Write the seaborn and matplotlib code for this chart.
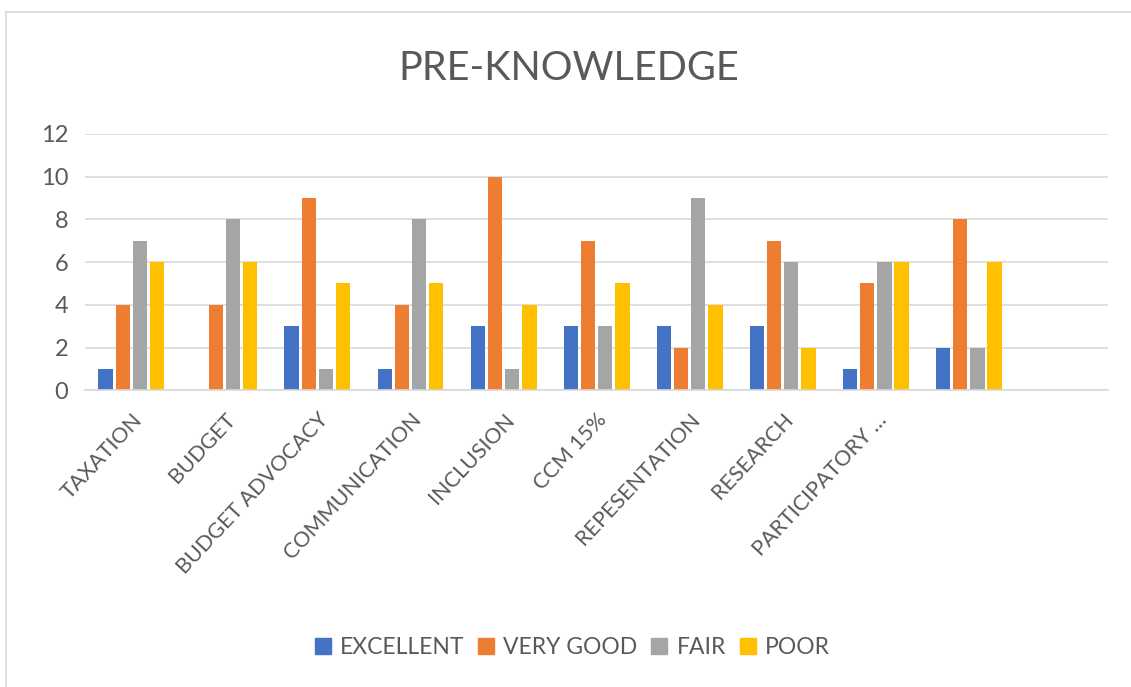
import matplotlib
matplotlib.use("Agg")
import matplotlib.pyplot as plt
import seaborn as sns
import pandas as pd
from matplotlib.lines import Line2D

categories = ["TAXATION", "BUDGET", "BUDGET ADVOCACY", "COMMUNICATION", "INCLUSION",
              "CCM 15%", "REPESENTATION", "RESEARCH", "PARTICIPATORY …", "cat10", "cat11"]
tick_labels = ["TAXATION", "BUDGET", "BUDGET ADVOCACY", "COMMUNICATION", "INCLUSION",
               "CCM 15%", "REPESENTATION", "RESEARCH", "PARTICIPATORY …", "", ""]
series = ["EXCELLENT", "VERY GOOD", "FAIR", "POOR"]
excellent = [1, 0, 3, 1, 3, 3, 3, 3, 1, 2]
very_good = [4, 4, 9, 4, 10, 7, 2, 7, 5, 8]
fair = [7, 8, 1, 8, 1, 3, 9, 6, 6, 2]
poor = [6, 6, 5, 5, 4, 5, 4, 2, 6, 6]
colors = ["#4472C4", "#ED7D31", "#A5A5A5", "#FFC000"]

rows = []
for s, vals in zip(series, [excellent, very_good, fair, poor]):
    for c, v in zip(categories, vals):
        rows.append({"category": c, "rating": s, "value": v})
df = pd.DataFrame(rows)

sns.set_theme(style="white")
plt.rcParams["font.family"] = ["Lato", "DejaVu Sans"]

fig = plt.figure(figsize=(11.31, 6.87), dpi=100)
ax = fig.add_axes([0.075, 0.432, 0.905, 0.373])

sns.barplot(data=df, x="category", y="value", hue="rating", order=categories,
            hue_order=series, palette=colors, saturation=1, width=0.74, gap=0.17,
            linewidth=0, errorbar=None, ax=ax, legend=False)

ax.set_ylim(0, 12)
ax.set_xlim(-0.5, len(categories) - 0.5)
ax.set_yticks(range(0, 13, 2))
ax.yaxis.grid(True, color="#D9D9D9", linewidth=1.2)
ax.set_axisbelow(True)
for side in ["left", "right", "top"]:
    ax.spines[side].set_visible(False)
ax.spines["bottom"].set_color("#D9D9D9")
ax.spines["bottom"].set_linewidth(1.2)
ax.set_xlabel("")
ax.set_ylabel("")
ax.tick_params(axis="y", length=0, pad=12, labelsize=17, labelcolor="#595959")
ax.tick_params(axis="x", length=0, pad=14, labelsize=15.5, labelcolor="#595959")
ax.set_xticks(range(len(categories)))
ax.set_xticklabels(tick_labels, rotation=47, ha="right", rotation_mode="anchor")

fig.text(0.503, 0.9, "PRE-KNOWLEDGE", ha="center", va="center",
         fontsize=28.5, color="#595959")

handles = [plt.Rectangle((0, 0), 1, 1, color=c) for c in colors]
fig.legend(handles, series, loc="center", bbox_to_anchor=(0.506, 0.058), ncol=4,
           frameon=False, fontsize=16.5, labelcolor="#595959", handlelength=0.7,
           handleheight=0.7, handletextpad=0.4, columnspacing=0.6)

# chart frame border
fig.add_artist(Line2D([6 / 1131, 6 / 1131], [0, 1 - 12 / 687], transform=fig.transFigure,
                      color="#D9D9D9", linewidth=1.2))
fig.add_artist(Line2D([6 / 1131, 1], [1 - 12 / 687, 1 - 12 / 687], transform=fig.transFigure,
                      color="#D9D9D9", linewidth=1.2))

fig.savefig("out.png", dpi=100, facecolor="white")
